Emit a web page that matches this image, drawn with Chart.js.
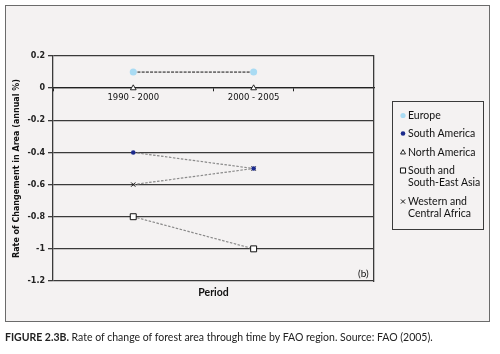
<!DOCTYPE html>
<html><head><meta charset="utf-8">
<script src="https://cdn.jsdelivr.net/npm/chart.js@4"></script>
<style>
html,body{margin:0;padding:0;background:#fff;}
#wrap{position:relative;width:500px;height:354px;overflow:hidden;}
#frame{position:absolute;left:5px;top:5px;width:485px;height:317px;box-sizing:border-box;border:1.5px solid #6b6b6b;background:#f4f2f2;}
#c{position:absolute;left:0;top:0;}
#legend{position:absolute;left:392px;top:101px;width:92px;height:129px;box-sizing:border-box;border:1px solid #3a3a3a;padding:7px 0 0 5px;font-family:Lato;font-size:10.5px;color:#111;}
.item{display:flex;align-items:flex-start;margin-bottom:5.8px;line-height:12.5px;}
.item canvas{flex:none;margin-top:2px;}
.nw{white-space:nowrap;}
#tag{position:absolute;left:358px;top:267px;font:10px Lato;color:#111;}
#caption{position:absolute;left:5px;top:331px;font:10.5px Lato;color:#222;white-space:nowrap;}
</style>
</head>
<body>
<div id="wrap">
  <div id="frame"></div>
  <canvas id="c" width="500" height="354"></canvas>
  <div id="legend"></div>
  <div id="tag">(b)</div>
  <div id="caption"><b>FIGURE 2.3B.</b> Rate of change of forest area through time by FAO region. Source: FAO (2005).</div>
</div>
<script>
// ---- data ----
const periods = ['1990 - 2000', '2000 - 2005'];
const periodStart = [1990, 2000];
const periodEnd = [2000, 2005];
const regions = ['Europe', 'South America', 'North America', 'South and South-East Asia', 'Western and Central Africa'];
const europe = [0.1, 0.1];
const southAmerica = [-0.4, -0.5];
const northAmerica = [0, 0];
const southEastAsia = [-0.8, -1.0];
const westCentralAfrica = [-0.6, -0.5];
const yTicks = [0.2, 0, -0.2, -0.4, -0.6, -0.8, -1, -1.2];
const yTitle = 'Rate of Changement in Area (annual %)';
const xTitle = 'Period';

// ---- build ----
const mids = periodStart.map((s, i) => (s + periodEnd[i]) / 2);
const boundaries = [...new Set([...periodStart, ...periodEnd])];
const pts = vals => vals.map((v, i) => ({x: mids[i], y: v}));
const greyLine = {borderColor: '#8a8a8a', borderDash: [2.5, 1.5], borderWidth: 1.2};

const datasets = [
  Object.assign({label: regions[0], data: pts(europe), pointStyle: 'circle', pointRadius: 3.5,
    pointBackgroundColor: '#a9dbf3', pointBorderColor: '#a9dbf3', pointBorderWidth: 0},
    {borderColor: '#111', borderDash: [3, 1.2], borderWidth: 1}),
  Object.assign({label: regions[1], data: pts(southAmerica), pointStyle: 'circle', pointRadius: 2.3,
    pointBackgroundColor: '#1b2a8c', pointBorderColor: '#1b2a8c', pointBorderWidth: 0}, greyLine),
  {label: regions[2], data: pts(northAmerica), pointStyle: 'triangle', pointRadius: 3.3,
    pointBackgroundColor: '#fff', pointBorderColor: '#111', pointBorderWidth: 0.9, showLine: false, borderColor: '#111'},
  Object.assign({label: regions[3], data: pts(southEastAsia), pointStyle: 'rect', pointRadius: 4.2,
    pointBackgroundColor: '#fff', pointBorderColor: '#111', pointBorderWidth: 1}, greyLine),
  Object.assign({label: regions[4], data: pts(westCentralAfrica), pointStyle: 'crossRot', pointRadius: 3,
    pointBackgroundColor: '#111', pointBorderColor: '#111', pointBorderWidth: 1}, greyLine)
];
datasets.forEach(d => { d.fill = false; d.tension = 0; d.pointHoverRadius = d.pointRadius; });

const axisColor = '#3a3a3a';
const chart = new Chart(document.getElementById('c'), {
  type: 'line',
  data: {datasets},
  options: {
    responsive: false,
    animation: false,
    events: [],
    layout: {padding: {left: 6, top: 56, right: 126, bottom: 51}},
    plugins: {legend: {display: false}, tooltip: {enabled: false}},
    scales: {
      x: {
        type: 'linear', position: {y: 0}, min: 1990, max: 2010,
        afterFit: s => { s.height = 0; },
        afterBuildTicks: s => { s.ticks = [...boundaries, ...mids].sort((a, b) => a - b).map(v => ({value: v})); },
        grid: {drawOnChartArea: false, drawTicks: true, tickLength: 3,
          tickColor: ctx => (ctx.tick && mids.includes(ctx.tick.value)) ? 'rgba(0,0,0,0)' : '#222', lineWidth: 1},
        border: {color: '#222', width: 1.3},
        ticks: {autoSkip: false, maxRotation: 0, minRotation: 0, padding: 2,
          font: {family: 'DejaVu Sans', size: 8.5}, color: '#111',
          callback: v => { const i = mids.indexOf(v); return i >= 0 ? periods[i] : ''; }}
      },
      x2: {
        type: 'linear', position: 'bottom', min: 1990, max: 2010,
        grid: {display: false, drawTicks: false}, border: {display: false},
        ticks: {display: false},
        afterFit: s => { s.height = 22; },
        title: {display: true, text: xTitle, font: {family: 'Lato', size: 10.5, weight: 'bold'}, color: '#111', padding: {top: 0, bottom: 4}}
      },
      y: {
        type: 'linear', position: 'left', min: -1.2, max: 0.2,
        afterFit: s => { s.width = 47; },
        afterBuildTicks: s => { s.ticks = yTicks.map(v => ({value: v})); },
        grid: {color: axisColor, lineWidth: 1.3, tickLength: 5, tickColor: axisColor},
        border: {color: axisColor, width: 1.3},
        ticks: {padding: 3, font: {family: 'DejaVu Sans', size: 8, weight: 'bold'}, color: '#222',
          callback: v => String(Math.round(v * 10) / 10)},
        title: {display: true, text: yTitle, font: {family: 'DejaVu Sans', size: 8, weight: 'bold'}, color: '#111', padding: {top: 6, bottom: 0}}
      },
      y2: {
        type: 'linear', position: 'right', min: -1.2, max: 0.2,
        afterFit: s => { s.width = 0; },
        grid: {display: false, drawTicks: false},
        ticks: {display: false},
        border: {display: true, color: axisColor, width: 1.3}
      }
    }
  }
});

// ---- HTML legend built from the datasets ----
const legendEl = document.getElementById('legend');
chart.data.datasets.forEach(ds => {
  const item = document.createElement('div');
  item.className = 'item';
  const cv = document.createElement('canvas');
  cv.width = 10; cv.height = 9;
  const ctx = cv.getContext('2d');
  ctx.fillStyle = ds.pointBackgroundColor;
  ctx.strokeStyle = ds.pointBorderColor;
  ctx.lineWidth = ds.pointBorderWidth || 0;
  const r = ds.pointStyle === 'rect' ? 3.6 : (ds.pointStyle === 'circle' ? Math.min(ds.pointRadius, 2.6) : 2.9);
  Chart.helpers.drawPoint(ctx, {pointStyle: ds.pointStyle, rotation: 0, radius: r, borderWidth: ds.pointBorderWidth}, 5, 4.5);
  const span = document.createElement('span');
  span.innerHTML = ds.label.split(' ').map(w => '<span class="nw">' + w + '</span>').join(' ');
  item.appendChild(cv);
  item.appendChild(span);
  legendEl.appendChild(item);
});
</script>
</body></html>
